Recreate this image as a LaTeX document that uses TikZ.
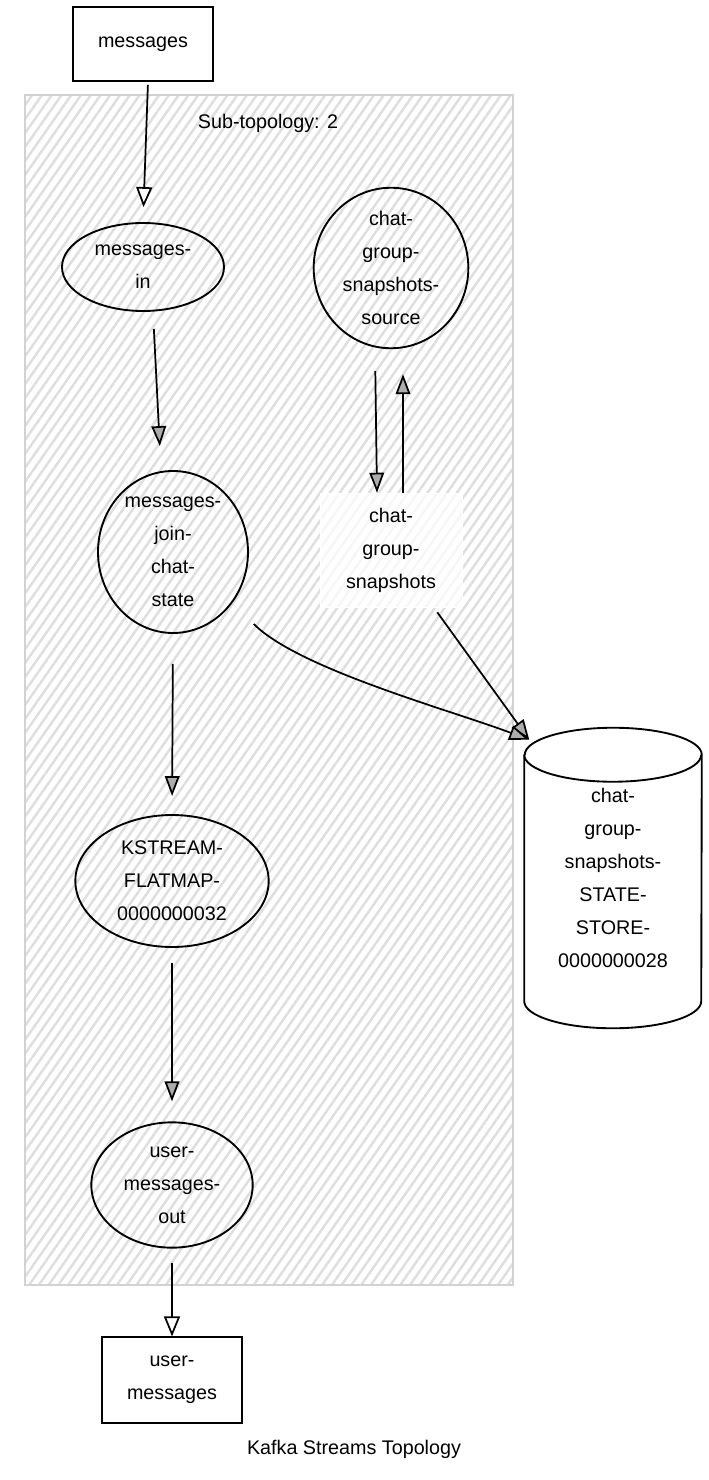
\documentclass[tikz,border=0pt]{standalone}
\usepackage{fontspec}
\setmainfont{Liberation Sans}
\usetikzlibrary{arrows.meta}
\usetikzlibrary{shapes.geometric}
\usetikzlibrary{patterns.meta}

\begin{document}
\begin{tikzpicture}[x=0.75pt,y=-0.75pt,
		every node/.style={font=\fontsize{14.8}{24.75}\selectfont,align=center},
		topic/.style={rectangle,draw=black,line width=1.4pt,minimum width=105pt,minimum height=55.5pt,inner sep=0pt},
		proc/.style={ellipse,draw=black,line width=1.4pt,inner sep=0pt},
		fwd/.style={line width=1.3pt,-{Triangle[length=15pt,width=11pt,fill=gray!65]}},
		topicfwd/.style={line width=1.3pt,-{Triangle[length=15pt,width=12pt,fill=white]}}]
		\useasboundingbox (0,0) rectangle (708,1480);
		\fill[white] (0,0) rectangle (708,1480);
		\fill[pattern={Lines[angle=55,distance=6pt,line width=1.8pt]},pattern color=gray!26] (25,95) rectangle (513,1285);
		\draw[gray!35,line width=1.5pt] (25,95) rectangle (513,1285);
		
		\node[topic]  (messages)  at (143,44)   {messages};
		\node         (subtop)    at (268,123)  {Sub-topology: 2};
		\node[proc,minimum width=121.5pt,minimum height=66pt]  (msgin)   at (143,267) {messages-\\in};
		\node[proc,minimum width=116pt,minimum height=120pt]   (source)  at (391,268) {chat-\\group-\\snapshots-\\source};
		\node[proc,minimum width=112.5pt,minimum height=121.5pt] (join)  at (173,552) {messages-\\join-\\chat-\\state};
		\node[rectangle,draw=white,fill=white,fill opacity=0.75,text opacity=1,minimum width=106.5pt,minimum height=85.5pt] (snapshots) at (391,550) {chat-\\group-\\snapshots};
		\node[proc,minimum width=145pt,minimum height=99pt]    (flatmap) at (172,881) {KSTREAM-\\FLATMAP-\\0000000032};
		\node[proc,minimum width=121pt,minimum height=94pt]    (out)     at (172,1185) {user-\\messages-\\out};
		\node[topic,minimum height=64pt] (usermsgs) at (172,1380) {user-\\messages};
		\node[minimum width=132.75pt,minimum height=225pt,inner sep=0pt] (store) at (613,878) {chat-\\group-\\snapshots-\\STATE-\\STORE-\\0000000028};
		\node         (title)     at (354,1449) {Kafka Streams Topology};
		
		\draw[line width=1.4pt] ([yshift=-20.25pt]store.north west) -- ([yshift=20.25pt]store.south west)
			arc[start angle=180,end angle=360,x radius=66.375pt,y radius=20.25pt]
			-- ([yshift=-20.25pt]store.north east)
			arc[start angle=0,end angle=180,x radius=66.375pt,y radius=20.25pt];
		\draw[line width=1.4pt] ([yshift=-20.25pt]store.north west) arc[start angle=180,end angle=360,x radius=66.375pt,y radius=20.25pt];
		
		\path[topicfwd]
		([xshift=3.75pt]messages.south) edge[shorten <=2.25pt,shorten >=11.25pt] (msgin.north)
		(out.south) edge[shorten <=10.5pt] (usermsgs.north);
		\path[fwd]
		([xshift=7.5pt]msgin.south) edge[shorten <=12.75pt,shorten >=18pt] ([xshift=-9pt]join.north)
		(join.south) edge[shorten <=22.5pt,shorten >=13.5pt] (flatmap.north)
		(flatmap.south) edge[shorten <=11.25pt,shorten >=15pt] (out.north)
		([xshift=-12pt]source.south) edge[shorten <=16.5pt] ([xshift=-10.5pt]snapshots.north)
		([xshift=9pt]snapshots.north) edge[shorten >=18.75pt] ([xshift=9pt]source.south)
		([shift={(-25,5)}]snapshots.south east) edge ([shift={(5,12)}]store.north west);
		\draw[fwd] ([shift={(27,14)}]join.south east) .. controls +(45,45) and +(-80,-30) .. ([shift={(5,12)}]store.north west);
		\end{tikzpicture}
\end{document}
